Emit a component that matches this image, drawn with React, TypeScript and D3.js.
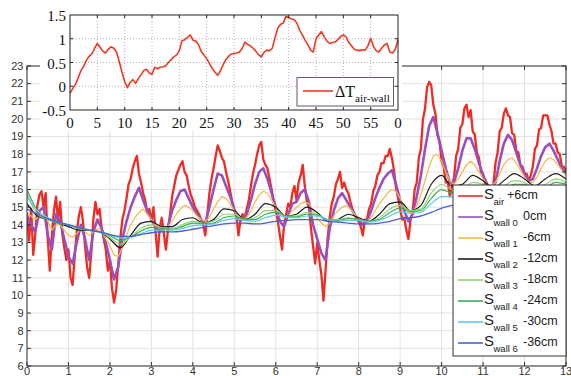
import React from "react";
import * as d3 from "d3";

// ---- main chart data (days 0..13) ----
const dayTicks = d3.range(0, 14);
const tempTicks = d3.range(6, 24);

// S_air, sampled every 0.05 day
const sAir = [
  14.6, 13.1, 14.9, 12.3, 13.5, 15.1, 15.7, 15.9, 15.0, 15.8, 13.2, 11.4, 13.4, 14.8, 15.6, 14.2, 15.3, 13.5, 12.7, 12.0,
  12.6, 11.0, 10.6, 12.2, 13.6, 14.5, 15.0, 14.2, 12.8, 11.6, 11.0, 12.4, 14.3, 15.3, 14.6, 14.9, 13.8, 13.2, 12.6, 11.4,
  12.0, 10.4, 9.6, 10.3, 11.7, 13.2, 14.3, 14.8, 15.5, 16.3, 16.6, 17.2, 17.6, 17.9, 16.9, 16.4, 15.8, 15.4, 14.7, 14.9,
  14.2, 15.0, 13.6, 12.2, 13.8, 14.4, 13.5, 12.6, 13.7, 14.6, 15.6, 16.2, 16.8, 17.1, 17.4, 17.6, 17.0, 16.8, 16.2, 15.7,
  15.4, 15.0, 14.8, 14.6, 14.3, 14.0, 13.4, 14.6, 15.8, 16.6, 17.2, 17.9, 18.5, 18.2, 17.8, 17.6, 17.0, 16.5, 15.9, 15.3,
  14.8, 14.5, 13.4, 14.3, 14.6, 14.4, 14.9, 15.4, 16.2, 16.9, 17.4, 18.0, 18.5, 18.7, 17.7, 17.4, 17.2, 16.6, 16.0, 15.3,
  14.8, 14.2, 13.4, 12.6, 14.0, 14.6, 15.2, 15.0, 15.8, 16.2, 15.4, 16.4, 16.8, 17.4, 16.2, 15.3, 15.0, 13.8, 12.8, 11.8,
  13.0, 12.0, 11.2, 9.7, 11.4, 13.2, 14.4, 15.2, 15.6, 16.3, 16.6, 17.0, 16.1, 16.4, 16.0, 15.8, 15.3, 14.9, 14.6, 14.3,
  14.2, 13.9, 13.4, 14.3, 14.3, 14.9, 15.2, 15.9, 16.2, 16.8, 17.0, 17.5, 17.5, 17.9, 17.9, 18.3, 17.8, 17.1, 16.1, 15.5,
  14.9, 14.3, 14.4, 13.7, 13.2, 14.3, 14.7, 16.0, 16.4, 17.8, 18.3, 20.0, 20.6, 21.8, 22.1, 21.9, 20.8, 20.3, 19.1, 18.7,
  17.6, 17.3, 16.4, 16.4, 15.6, 16.2, 16.7, 17.9, 18.3, 19.5, 19.7, 20.6, 20.8, 20.1, 20.5, 19.3, 19.1, 18.1, 17.8, 17.0,
  16.9, 16.3, 16.2, 15.7, 16.0, 16.3, 17.5, 18.1, 19.3, 19.5, 20.3, 20.6, 20.2, 20.1, 19.2, 19.1, 18.2, 18.1, 17.4, 17.3,
  16.9, 16.9, 16.5, 16.8, 17.3, 18.3, 18.5, 19.4, 19.5, 20.2, 20.2, 20.2, 19.7, 19.3, 18.6, 18.6, 18.1, 18.0, 17.3, 17.3,
  17.0,
];

// S_wall 0, every 0.1 day
const sWall0 = [
  14.5, 14.0, 13.6, 14.8, 15.0, 13.4, 12.6, 14.6, 14.2, 13.2,
  12.2, 11.8, 13.0, 14.0, 13.2, 12.0, 13.6, 14.3, 13.8, 13.0,
  12.0, 10.9, 11.6, 13.2, 14.2, 15.0, 15.6, 16.1, 15.4, 14.8,
  14.3, 13.9, 13.6, 13.8, 13.9, 14.8, 15.4, 15.9, 16.0, 15.5,
  15.0, 14.6, 14.3, 14.1, 15.0, 16.0, 16.9, 16.8, 16.2, 15.6,
  14.9, 14.3, 14.3, 14.6, 15.4, 16.3, 17.0, 17.2, 16.6, 15.8,
  15.0, 14.2, 13.9, 14.6, 15.2, 15.3, 15.8, 16.0, 15.3, 14.0,
  13.2, 12.4, 12.0, 13.8, 14.8, 15.5, 15.8, 15.4, 15.0, 14.6,
  14.3, 14.0, 14.2, 14.8, 15.5, 16.1, 16.6, 16.9, 17.1, 16.3,
  15.4, 14.8, 14.2, 14.6, 15.6, 16.8, 18.3, 19.6, 20.1, 19.2,
  18.2, 17.2, 16.4, 16.4, 17.2, 18.2, 18.9, 18.9, 18.3, 17.5,
  16.8, 16.3, 16.0, 16.4, 17.6, 18.6, 19.1, 18.8, 18.1, 17.4,
  16.9, 16.5, 16.6, 17.2, 17.9, 18.4, 18.6, 18.2, 17.7, 17.2, 16.9,
];

// S_wall 1, every 0.1 day
const sWall1 = [
  14.7, 14.5, 14.3, 14.5, 14.6, 14.2, 13.7, 14.0, 14.0, 13.7,
  13.4, 13.3, 13.5, 13.8, 13.6, 13.4, 13.6, 13.8, 13.6, 13.2,
  12.8, 12.3, 12.2, 12.7, 13.4, 14.0, 14.4, 14.7, 14.9, 14.6,
  14.3, 14.0, 13.8, 13.8, 13.9, 14.2, 14.6, 14.9, 15.1, 15.0,
  14.8, 14.5, 14.3, 14.2, 14.4, 14.9, 15.3, 15.6, 15.5, 15.2,
  14.8, 14.4, 14.3, 14.4, 14.8, 15.3, 15.7, 15.9, 15.8, 15.4,
  15.0, 14.6, 14.4, 14.5, 14.8, 15.0, 15.2, 15.3, 15.2, 14.8,
  14.4, 14.1, 13.9, 14.1, 14.5, 14.8, 15.0, 15.1, 14.9, 14.6,
  14.4, 14.2, 14.2, 14.4, 14.8, 15.2, 15.5, 15.8, 16.0, 15.9,
  15.5, 15.0, 14.7, 14.7, 15.1, 15.7, 16.5, 17.3, 17.9, 18.0,
  17.6, 17.0, 16.5, 16.3, 16.6, 17.0, 17.4, 17.6, 17.4, 17.0,
  16.6, 16.3, 16.2, 16.4, 16.9, 17.4, 17.7, 17.8, 17.5, 17.1,
  16.7, 16.4, 16.4, 16.7, 17.2, 17.6, 17.8, 17.7, 17.4, 17.1, 16.8,
];

// S_wall 2..6, every 0.25 day
const sWall2 = [
  15.2, 14.5, 14.3, 14.1, 13.9, 13.7, 13.7, 13.6, 13.2, 12.7, 13.4, 14.1, 14.2, 13.9, 13.9, 14.3, 14.4, 14.1,
  14.3, 14.9, 14.8, 14.3, 14.6, 15.2, 15.0, 14.5, 14.6, 15.0, 14.7, 14.2, 14.3, 14.6, 14.4, 14.2, 14.6, 15.2,
  15.3, 14.8, 15.1, 16.3, 16.8, 16.2, 16.3, 16.8, 16.5, 16.1, 16.5, 16.9, 16.6, 16.2, 16.6, 16.9, 16.6,
];
const sWall3 = [
  15.8, 14.6, 14.3, 14.1, 14.0, 13.8, 13.7, 13.6, 13.3, 12.9, 13.3, 13.8, 14.0, 13.85, 13.8, 14.0, 14.2, 14.1,
  14.2, 14.6, 14.6, 14.3, 14.4, 14.8, 14.8, 14.5, 14.5, 14.7, 14.6, 14.3, 14.3, 14.4, 14.3, 14.2, 14.4, 14.9,
  15.1, 14.8, 14.9, 15.8, 16.3, 16.0, 16.0, 16.4, 16.3, 16.0, 16.2, 16.5, 16.4, 16.1, 16.3, 16.6, 16.4,
];
const sWall4 = [
  16.0, 14.8, 14.4, 14.1, 14.0, 13.8, 13.7, 13.6, 13.4, 13.1, 13.3, 13.65, 13.85, 13.8, 13.75, 13.9, 14.1, 14.05,
  14.1, 14.4, 14.5, 14.3, 14.3, 14.6, 14.7, 14.5, 14.45, 14.6, 14.55, 14.3, 14.25, 14.35, 14.3, 14.2, 14.3, 14.7,
  14.95, 14.75, 14.8, 15.5, 16.0, 15.8, 15.8, 16.1, 16.1, 15.9, 16.0, 16.3, 16.3, 16.0, 16.1, 16.4, 16.3,
];
const sWall5 = [
  15.6, 14.8, 14.4, 14.15, 14.0, 13.85, 13.7, 13.6, 13.45, 13.25, 13.3, 13.5, 13.7, 13.7, 13.7, 13.8, 13.95, 14.0,
  14.05, 14.25, 14.35, 14.25, 14.2, 14.4, 14.55, 14.45, 14.4, 14.5, 14.5, 14.3, 14.2, 14.25, 14.25, 14.15, 14.25, 14.5,
  14.75, 14.65, 14.7, 15.2, 15.6, 15.6, 15.6, 15.8, 15.9, 15.8, 15.8, 16.0, 16.1, 15.9, 15.9, 16.1, 16.1,
];
const sWall6 = [
  14.9, 14.6, 14.35, 14.15, 14.0, 13.85, 13.7, 13.6, 13.45, 13.35, 13.35, 13.45, 13.55, 13.6, 13.6, 13.65, 13.75, 13.85,
  13.95, 14.05, 14.1, 14.1, 14.05, 14.1, 14.2, 14.25, 14.3, 14.3, 14.3, 14.2, 14.15, 14.1, 14.05, 14.05, 14.1, 14.2,
  14.35, 14.4, 14.5, 14.7, 14.95, 15.1, 15.2, 15.3, 15.4, 15.45, 15.5, 15.6, 15.65, 15.65, 15.7, 15.75, 15.8,
];

// ---- inset data: delta T air-wall, every 0.5 ----
const insetXTicks = d3.range(0, 60, 5);
const insetXLabels = ["0", "5", "10", "15", "20", "25", "30", "35", "40", "45", "50", "55", "0"];
const insetYTicks = [-0.5, 0, 0.5, 1, 1.5];
const dTairWall = [
  -0.15, -0.05, 0.04, 0.18, 0.33, 0.42, 0.55, 0.63, 0.68, 0.8, 0.9, 0.82, 0.74, 0.7, 0.78, 0.83, 0.8, 0.72, 0.52, 0.3,
  0.1, -0.03, 0.08, 0.14, 0.06, 0.16, 0.24, 0.33, 0.36, 0.28, 0.25, 0.4, 0.37, 0.4, 0.41, 0.43, 0.5, 0.56, 0.62, 0.66,
  0.75, 0.96, 0.98, 1.03, 1.08, 0.97, 0.95, 0.88, 0.73, 0.66, 0.58, 0.48, 0.38, 0.3, 0.23, 0.32, 0.45, 0.56, 0.63, 0.68,
  0.69, 0.7, 0.72, 0.8, 0.93, 0.88, 0.85, 0.8, 0.74, 0.66, 0.62, 0.72, 0.76, 0.75, 0.8, 1.02, 1.22, 1.3, 1.33, 1.47,
  1.45, 1.42, 1.4, 1.33, 1.18, 1.08, 0.97, 0.88, 0.76, 0.72, 1.0, 1.08, 1.15, 1.04, 0.95, 0.9, 0.92, 0.93, 0.98, 1.05,
  1.08, 1.04, 0.92, 0.85, 0.78, 0.76, 0.75, 0.77, 0.76, 0.85, 1.01, 0.84, 0.75, 0.72, 0.8, 0.87, 0.9, 0.72, 0.7, 0.78,
  0.98,
];

const series = [
  { sub: "air", depth: "+6cm", color: "#ee2b24", data: sAir, step: 0.05, width: 2.3 },
  { sub: "wall 0", depth: "0cm", color: "#9b4fbd", data: sWall0, step: 0.1, width: 2.6 },
  { sub: "wall 1", depth: "-6cm", color: "#f6b944", data: sWall1, step: 0.1, width: 1.2 },
  { sub: "wall 2", depth: "-12cm", color: "#1c1c1c", data: sWall2, step: 0.25, width: 1.2 },
  { sub: "wall 3", depth: "-18cm", color: "#8fd46c", data: sWall3, step: 0.25, width: 1.2 },
  { sub: "wall 4", depth: "-24cm", color: "#3fab5c", data: sWall4, step: 0.25, width: 1.2 },
  { sub: "wall 5", depth: "-30cm", color: "#5ccbea", data: sWall5, step: 0.25, width: 1.2 },
  { sub: "wall 6", depth: "-36cm", color: "#4d5fd6", data: sWall6, step: 0.25, width: 1.3 },
];

const SANS = "'Liberation Sans', Arial, sans-serif";
const SERIF = "'Liberation Serif', 'Times New Roman', serif";

export default function App() {
  // main plot area
  const x = d3.scaleLinear().domain([0, 13]).range([27, 566]);
  const y = d3.scaleLinear().domain([6, 23]).range([366, 66]);
  const [x0, x1] = x.range();
  const [y0, y1] = y.range();

  // inset plot area
  const ix = d3.scaleLinear().domain([0, 60]).range([70, 398]);
  const iy = d3.scaleLinear().domain([-0.5, 1.5]).range([110, 15]);

  const lineFor = (step: number, smooth: boolean) =>
    d3
      .line<number>()
      .x((_, i) => x(i * step))
      .y((d) => y(d))
      .curve(smooth ? d3.curveMonotoneX : d3.curveLinear);

  const insetLine = d3
    .line<number>()
    .x((_, i) => ix(i * 0.5))
    .y((d) => iy(d));

  const legX = 453;
  const legY = 185;
  const rowY = (i: number) => 196 + i * 21;

  return (
    <svg
      width={571}
      height={376}
      style={{ position: "absolute", left: 0, top: 0, background: "#fff" }}
    >
      <rect width={571} height={376} fill="#fff" />
      <defs>
        <clipPath id="plot">
          <rect x={x0} y={y1} width={x1 - x0} height={y0 - y1} />
        </clipPath>
      </defs>

      {/* grid */}
      <g stroke="#e1e1e1" strokeWidth={1}>
        {dayTicks.map((t) => (
          <line key={"gx" + t} x1={x(t)} x2={x(t)} y1={y1} y2={y0} />
        ))}
        {tempTicks.map((t) => (
          <line key={"gy" + t} x1={x0} x2={x1} y1={y(t)} y2={y(t)} />
        ))}
      </g>

      {/* series */}
      <g clipPath="url(#plot)" fill="none" strokeLinejoin="round">
        {series.map((s) => (
          <path
            key={s.sub}
            d={lineFor(s.step, s.step > 0.2)(s.data) || ""}
            stroke={s.color}
            strokeWidth={s.width}
          />
        ))}
      </g>

      {/* frame + ticks */}
      <rect x={x0} y={y1} width={x1 - x0} height={y0 - y1} fill="none" stroke="#333" strokeWidth={1} />
      <g stroke="#333" strokeWidth={1}>
        {dayTicks.map((t) => (
          <g key={"tx" + t}>
            <line x1={x(t)} x2={x(t)} y1={y0} y2={y0 - 4} />
            <line x1={x(t)} x2={x(t)} y1={y1} y2={y1 + 4} />
          </g>
        ))}
        {tempTicks.map((t) => (
          <g key={"ty" + t}>
            <line x1={x0} x2={x0 + 4} y1={y(t)} y2={y(t)} />
            <line x1={x1} x2={x1 - 4} y1={y(t)} y2={y(t)} />
          </g>
        ))}
      </g>
      <g fontFamily={SANS} fontSize={11} fill="#333">
        {tempTicks.map((t) => (
          <text key={"ly" + t} x={x0 - 3.5} y={y(t)} dy="0.35em" textAnchor="end">
            {t}
          </text>
        ))}
        {dayTicks.map((t) => (
          <text key={"lx" + t} x={x(t)} y={375} textAnchor="middle">
            {t}
          </text>
        ))}
      </g>

      {/* main legend */}
      <rect x={legX} y={legY} width={x1 - legX} height={356 - legY} fill="#fff" stroke="#333" strokeWidth={1} />
      <g fontFamily={SANS} fill="#222">
        {series.map((s, i) => (
          <g key={"leg" + s.sub}>
            <line x1={458} x2={483} y1={rowY(i)} y2={rowY(i)} stroke={s.color} strokeWidth={1.6} />
            <text x={484} y={rowY(i) + 3} fontSize={15}>
              S
            </text>
            <text x={493.5} y={rowY(i) + 9} fontSize={9.5}>
              {s.sub}
            </text>
            <text x={i === 0 ? 507 : 523} y={rowY(i) + 2.5} fontSize={12.5}>
              {s.depth}
            </text>
          </g>
        ))}
      </g>

      {/* inset */}
      <rect x={40} y={0} width={362} height={131} fill="#fff" />
      <g stroke="#c6a2cc" strokeWidth={1} strokeDasharray="1,2">
        {insetXTicks.slice(1).map((t) => (
          <line key={"igx" + t} x1={ix(t)} x2={ix(t)} y1={iy(1.5)} y2={iy(-0.5)} />
        ))}
        {[0, 0.5, 1].map((t) => (
          <line key={"igy" + t} x1={ix(0)} x2={ix(60)} y1={iy(t)} y2={iy(t)} />
        ))}
      </g>
      <path d={insetLine(dTairWall) || ""} fill="none" stroke="#ef3a22" strokeWidth={1.6} strokeLinejoin="round" />
      <rect
        x={ix(0)}
        y={iy(1.5)}
        width={ix(60) - ix(0)}
        height={iy(-0.5) - iy(1.5)}
        fill="none"
        stroke="#222"
        strokeWidth={1}
      />
      <g stroke="#222" strokeWidth={1}>
        {insetXTicks.slice(1).map((t) => (
          <g key={"itx" + t}>
            <line x1={ix(t)} x2={ix(t)} y1={iy(-0.5)} y2={iy(-0.5) - 3} />
            <line x1={ix(t)} x2={ix(t)} y1={iy(1.5)} y2={iy(1.5) + 3} />
          </g>
        ))}
        {[0, 0.5, 1].map((t) => (
          <g key={"ity" + t}>
            <line x1={ix(0)} x2={ix(0) + 3} y1={iy(t)} y2={iy(t)} />
            <line x1={ix(60)} x2={ix(60) - 3} y1={iy(t)} y2={iy(t)} />
          </g>
        ))}
      </g>
      <g fontFamily={SERIF} fontSize={15} fill="#111">
        {insetYTicks.map((t) => (
          <text key={"ily" + t} x={66} y={iy(t) + 6} textAnchor="end">
            {t}
          </text>
        ))}
        {insetXLabels.map((lab, i) => (
          <text key={"ilx" + i} x={ix(i * 5)} y={128} textAnchor="middle">
            {lab}
          </text>
        ))}
      </g>

      {/* inset legend */}
      <rect x={297} y={77.5} width={96.5} height={28.5} fill="#fff" stroke="#6a5470" strokeWidth={1} />
      <line x1={303} x2={333} y1={91} y2={91} stroke="#ef3a22" strokeWidth={1.6} />
      <text x={335} y={97} fontFamily={SERIF} fontSize={16} fill="#111">
        ΔT
      </text>
      <text x={355} y={102} fontFamily={SERIF} fontSize={11.3} fill="#111">
        air-wall
      </text>
    </svg>
  );
}
